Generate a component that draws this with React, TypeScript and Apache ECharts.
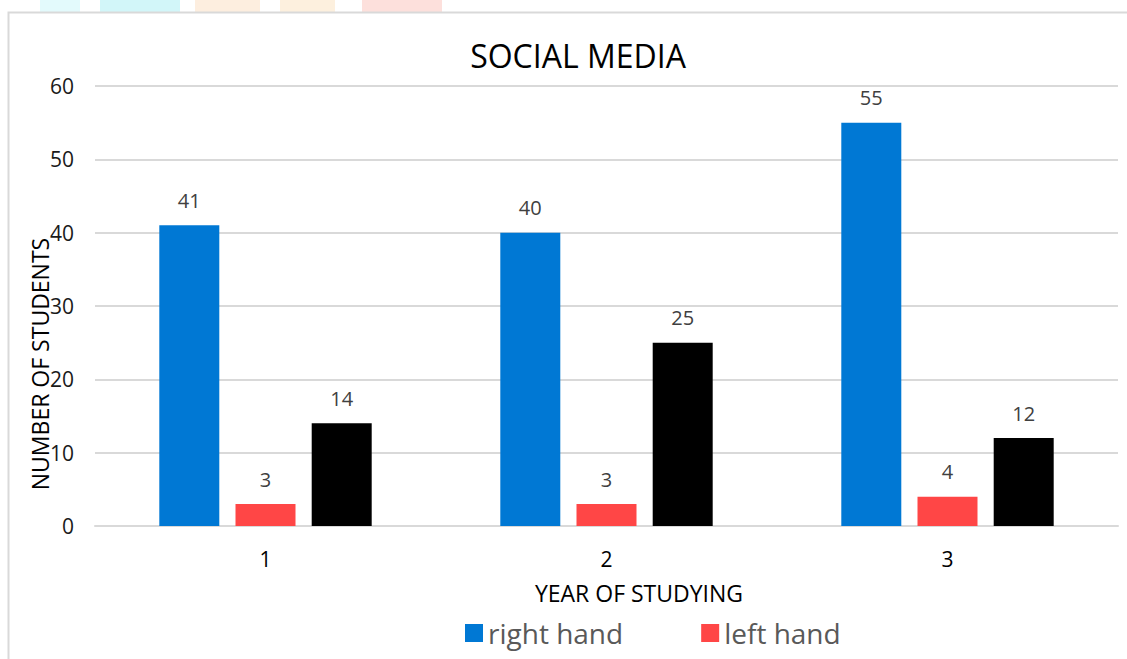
import React, { useEffect, useRef } from "react";
import * as echarts from "echarts";

const categories = ["1", "2", "3"];
const rightHand = [41, 40, 55];
const leftHand = [3, 3, 4];
const thirdSeries = [14, 25, 12];
const yTicks = [0, 10, 20, 30, 40, 50, 60];

const FONT = "'Open Sans', 'Noto Sans', sans-serif";

export default function App() {
  const ref = useRef<HTMLDivElement>(null);
  useEffect(() => {
    if (!ref.current) return;
    const chart = echarts.init(ref.current, null, { renderer: "svg" });
    const label = {
      show: true,
      position: "top",
      distance: 15,
      fontSize: 20,
      color: "#404040",
      fontFamily: FONT,
    };
    chart.setOption({
      animation: false,
      backgroundColor: "#ffffff",
      textStyle: { fontFamily: FONT },
      title: {
        text: "SOCIAL MEDIA",
        left: 573,
        textAlign: "center",
        top: 34,
        textStyle: { fontSize: 32, fontWeight: "normal", color: "#000", fontFamily: FONT },
      },
      legend: {
        data: ["right hand", "left hand"],
        left: 460,
        top: 614,
        icon: "rect",
        itemWidth: 18,
        itemHeight: 18,
        itemGap: 78,
        textStyle: { fontSize: 28, color: "#595959", fontFamily: FONT },
      },
      grid: { left: 95, right: 9, top: 86, bottom: 133 },
      xAxis: {
        type: "category",
        data: categories,
        axisTick: { show: false },
        axisLine: { show: true, lineStyle: { color: "#d9d9d9", width: 2 } },
        axisLabel: { fontSize: 21, color: "#000", margin: 22, fontFamily: FONT },
      },
      yAxis: {
        type: "value",
        min: yTicks[0],
        max: yTicks[yTicks.length - 1],
        interval: 10,
        axisLine: { show: false },
        axisTick: { show: false },
        splitLine: { lineStyle: { color: "#d9d9d9", width: 2 } },
        axisLabel: { fontSize: 21, color: "#1a1a1a", margin: 21, fontFamily: FONT },
      },
      graphic: [
        { type: "rect", shape: { x: 40, y: 0, width: 40, height: 12 }, style: { fill: "#e3fafc" }, silent: true },
        { type: "rect", shape: { x: 100, y: 0, width: 80, height: 12 }, style: { fill: "#d2f6f9" }, silent: true },
        { type: "rect", shape: { x: 195, y: 0, width: 65, height: 12 }, style: { fill: "#fdeedf" }, silent: true },
        { type: "rect", shape: { x: 280, y: 0, width: 55, height: 12 }, style: { fill: "#fdf0de" }, silent: true },
        { type: "rect", shape: { x: 362, y: 0, width: 80, height: 12 }, style: { fill: "#fde0dc" }, silent: true },
        {
          type: "rect",
          shape: { x: 8.5, y: 12.5, width: 1130, height: 660 },
          style: { fill: "none", stroke: "#d9d9d9", lineWidth: 2 },
          silent: true,
        },
        {
          type: "text",
          x: 40,
          y: 364,
          rotation: Math.PI / 2,
          style: {
            text: "NUMBER OF STUDENTS",
            fontSize: 23,
            fill: "#000",
            fontFamily: FONT,
            align: "center",
            verticalAlign: "middle",
          },
          silent: true,
        },
        {
          type: "text",
          x: 639,
          y: 593,
          style: {
            text: "YEAR OF STUDYING",
            fontSize: 23,
            fill: "#000",
            fontFamily: FONT,
            align: "center",
            verticalAlign: "middle",
          },
          silent: true,
        },
      ],
      series: [
        {
          name: "right hand",
          type: "bar",
          data: rightHand,
          barWidth: 60,
          barGap: "27%",
          itemStyle: { color: "#0078d4" },
          label,
        },
        {
          name: "left hand",
          type: "bar",
          data: leftHand,
          barWidth: 60,
          barGap: "27%",
          itemStyle: { color: "#ff4646" },
          label,
        },
        {
          name: "other",
          type: "bar",
          data: thirdSeries,
          barWidth: 60,
          barGap: "27%",
          itemStyle: { color: "#000000" },
          label,
        },
      ],
    });
    return () => chart.dispose();
  }, []);
  return (
    <div
      ref={ref}
      style={{ position: "fixed", left: 0, top: 0, width: 1127, height: 659 }}
    />
  );
}
